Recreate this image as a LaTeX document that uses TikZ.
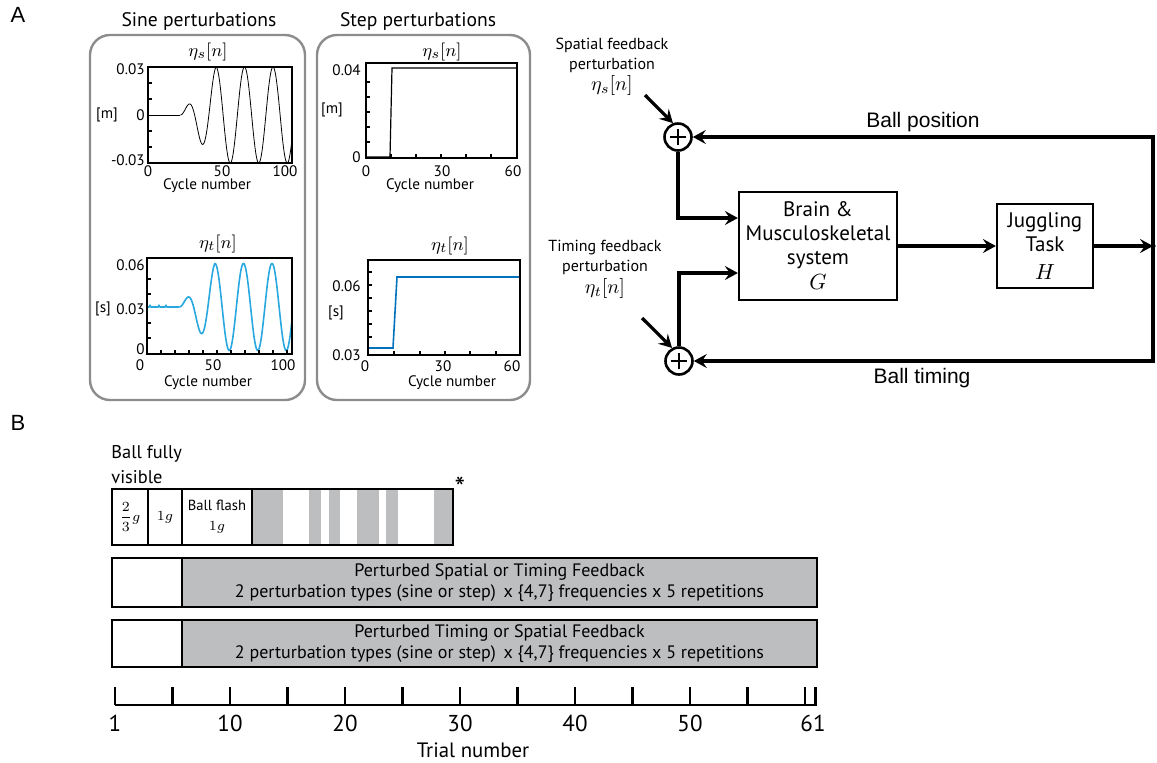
\documentclass[tikz,border=0pt]{standalone}
\usepackage[no-math]{fontspec}
\setmainfont{PT Sans}
\newfontfamily\arialf{Liberation Sans}
\usetikzlibrary{arrows.meta,calc}
\newcommand\fs[2]{\fontsize{#1pt}{#2pt}\selectfont}
\definecolor{panelgray}{RGB}{140,140,140}
\definecolor{stripegray}{RGB}{188,190,192}
\definecolor{sineblue}{RGB}{41,168,224}
\definecolor{stepblue}{RGB}{0,114,189}
\tikzset{
  lab/.style={inner sep=0pt, font=\fs{7.6}{9}},
  ttl/.style={inner sep=0pt, font=\fs{9.8}{11}},
  mathlab/.style={inner sep=0pt, font=\fs{9.5}{11}},
  frame/.style={line width=1.3pt},
  tick/.style={line width=0.9pt},
  panel/.style={draw=panelgray, line width=1.2pt, rounded corners=10pt},
  arr/.style={line width=1.6pt, -{Stealth[length=6.5pt,width=7pt,inset=2.4pt]}},
  blk/.style={draw, line width=1.1pt, align=center, inner sep=0pt, font=\fs{10.5}{12}},
  sumn/.style={circle, draw, line width=1.3pt, minimum size=13.5pt, inner sep=0pt,
    path picture={\draw[line width=1.2pt] ([xshift=-4.2pt]path picture bounding box.center) -- ([xshift=4.2pt]path picture bounding box.center);
      \draw[line width=1.2pt] ([yshift=-4.2pt]path picture bounding box.center) -- ([yshift=4.2pt]path picture bounding box.center);}},
  perttxt/.style={inner sep=0pt, align=center, font=\fs{8}{10}},
  fbtxt/.style={inner sep=0pt, font=\arialf\fs{10.5}{12}},
  cell/.style={draw, line width=0.9pt, inner sep=0pt, align=center},
  trial/.style={inner sep=0pt, font=\fs{11.5}{13}},
}
\begin{document}
\begin{tikzpicture}[x=0.5pt,y=-0.5pt]
\useasboundingbox (0,0) rectangle (1157,762);
% panel letters
\node[inner sep=0pt, font=\arialf\fs{11}{13}] (lA) at (18,15) {A};
\node[inner sep=0pt, font=\arialf\fs{11}{13}] (lB) at (18,423) {B};

% ---------- panels
\draw[panel] (90,35) rectangle (305,400);
\draw[panel] (317,35) rectangle (530,400);
\node[ttl] (t1) at (199,21) {Sine perturbations};
\node[ttl] (t2) at (418,21) {Step perturbations};

% ---------- sine top
\node[mathlab] (st1) at (208,52) {$\eta_s[n]$};
\draw (148,115) -- (180.4,115);
\draw plot[domain=180.4:292,samples=220] (\x,{115-48*min(1,(\x-180.4)/35.6)*cos(12.6316*(\x-216))});
\foreach \y in {83,99,131,147} \draw[tick] (148,\y) -- (152,\y);
\draw[frame] (148,67) rectangle (292,163);
\node[lab,anchor=east] (s1y1) at (145,69) {0.03};
\node[lab,anchor=east] (s1y2) at (145,115) {0};
\node[lab,anchor=east] (s1y3) at (145,160) {-0.03};
\node[lab] (s1u) at (107,115) {[m]};
\node[lab] (s1x1) at (148,171) {0};
\node[lab] (s1x2) at (222,171) {50};
\node[lab] (s1x3) at (285,171) {100};
\node[lab] (s1c) at (207,186) {Cycle number};

% ---------- sine bottom
\node[mathlab] (st2) at (218,244) {$\eta_t[n]$};
\draw[sineblue, line width=0.8pt] (147,307) -- (149,307) -- (150,305.5) -- (151,307) -- (158,307) -- (159,305.5) -- (160,307) -- (165,307) -- (166,305.5) -- (167,307) -- (179.4,307);
\draw[sineblue, line width=0.8pt] plot[domain=179.4:292,samples=220] (\x,{307-43.5*min(1,(\x-179.4)/35.6)*cos(12.6316*(\x-215))});
\foreach \y in {279,294,323,338} \draw[tick] (147,\y) -- (151,\y);
\foreach \x in {161,175,189,203,217,231,245,259,273,287} \draw[tick] (\x,354) -- (\x,350);
\draw[frame] (147,258) rectangle (292,354);
\node[lab,anchor=east] (s2y1) at (145,265) {0.06};
\node[lab,anchor=east] (s2y2) at (145,309) {0.03};
\node[lab,anchor=east] (s2y3) at (145,349) {0};
\node[lab] (s2u) at (103,309) {[s]};
\node[lab] (s2x1) at (140,365) {0};
\node[lab] (s2x2) at (213,365) {50};
\node[lab] (s2x3) at (283,365) {100};
\node[lab] (s2c) at (208,383) {Cycle number};

% ---------- step top
\node[mathlab] (st3) at (442,52) {$\eta_s[n]$};
\draw[line width=0.6pt] (366,157) -- (390,157) -- (392,68) -- (517,68);
\foreach \y in {82,97,112,127,142} \draw[tick] (366,\y) -- (370,\y);
\foreach \x in {391,416,441,466,491} \draw[tick] (\x,158) -- (\x,154);
\draw[frame] (366,63) rectangle (517,158);
\node[lab,anchor=east] (p1y1) at (361,70) {0.04};
\node[lab,anchor=east] (p1y2) at (361,157) {0};
\node[lab] (p1u) at (332,110) {[m]};
\node[lab] (p1x1) at (366,171) {0};
\node[lab] (p1x2) at (442,171) {30};
\node[lab] (p1x3) at (513,171) {60};
\node[lab] (p1c) at (430,186) {Cycle number};

% ---------- step bottom
\node[mathlab] (st4) at (450,246) {$\eta_t[n]$};
\draw[stepblue, line width=0.8pt] (368,348) -- (393,348) -- (397,277) -- (520,277);
\foreach \y in {272,285,298,311,324,337} \draw[tick] (368,\y) -- (372,\y);
\foreach \x in {394,420,445,470,496} \draw[tick] (\x,355) -- (\x,351);
\draw[frame] (368,260) rectangle (520,355);
\node[lab,anchor=east] (p2y1) at (361,286) {0.06};
\node[lab,anchor=east] (p2y2) at (361,355) {0.03};
\node[lab] (p2u) at (336,313) {[s]};
\node[lab] (p2x1) at (365,366) {0};
\node[lab] (p2x2) at (443,366) {30};
\node[lab] (p2x3) at (512,366) {60};
\node[lab] (p2c) at (452,383) {Cycle number};

% ---------- block diagram
\node[perttxt] (sp) at (612,55) {Spatial feedback\\perturbation};
\node[mathlab, font=\fs{10}{11}] (spm) at (612,85) {$\eta_s[n]$};
\node[perttxt] (tp) at (605,257) {Timing feedback\\perturbation};
\node[mathlab, font=\fs{10}{11}] (tpm) at (605,288) {$\eta_t[n]$};

\node[sumn] (sj) at (678,137) {};
\node[sumn] (tj) at (679,361) {};
\node[blk, minimum width=79pt, minimum height=54pt] (brain) at (818,246) {Brain \&\\Musculoskeletal\\system\\[0.5pt]$G$};
\node[blk, minimum width=48pt, minimum height=42pt] (jug) at (1045,246) {Juggling\\Task\\[2pt]$H$};
\coordinate (dot) at (1153,246);
\coordinate (sin) at (645,95);
\coordinate (tin) at (642,318);

\draw[arr] (sin) -- (sj.110);
\draw[arr] (tin) -- (tj.118);
\draw[arr] (sj.south) |- ($(brain.west)+(0,-28)$);
\draw[arr] (tj.north) |- ($(brain.west)+(0,27)$);
\draw[arr] (brain.east) -- (jug.west);
\draw[arr] (jug.east) -- (dot);
\fill (dot) circle (2.6);
\draw[arr] (dot) |- (sj.east);
\draw[arr] (dot) |- (tj.east);
\node[fbtxt] (bp) at (923,122) {Ball position};
\node[fbtxt] (bt) at (922,378) {Ball timing};

% ---------- panel B
\node[inner sep=0pt, anchor=west, align=left, font=\fs{9.2}{12.5}] (bfv) at (111,465) {Ball fully\\visible};
\foreach \a/\b in {252/283,309/321,329/340,357/379,386/398,434/453}
  \fill[stripegray] (\a,489) rectangle (\b,545);
\node[cell, minimum width=18pt, minimum height=28pt, font=\fs{7.5}{8}] (c1) at (130,517) {$\displaystyle\frac{2}{3}g$};
\node[cell, minimum width=17pt, minimum height=28pt, font=\fs{7.5}{8}] (c2) at (165,517) {$1g$};
\node[cell, minimum width=35pt, minimum height=28pt, font=\fs{7.3}{10}] (c3) at (217,517) {Ball flash\\$1g$};
\node[cell, minimum width=100.5pt, minimum height=28pt] (c4) at (352.5,517) {};
\node[inner sep=0pt, font=\fs{15}{15}] (ast) at (460,488) {*};

\node[cell, minimum width=35pt, minimum height=24.5pt] (r2a) at (147,582.5) {};
\node[cell, fill=stripegray, minimum width=317.5pt, minimum height=24.5pt, font=\fs{9}{10.5}] (r2b) at (499.5,582.5) {Perturbed Spatial or Timing Feedback\\2 perturbation types (sine or step)\, x \{4,7\} frequencies x 5 repetitions};
\node[cell, minimum width=35pt, minimum height=23.5pt] (r3a) at (147,643.5) {};
\node[cell, fill=stripegray, minimum width=317.5pt, minimum height=23.5pt, font=\fs{9}{10.5}] (r3b) at (499.5,643.5) {Perturbed Timing or Spatial Feedback\\2 perturbation types (sine or step)\, x \{4,7\} frequencies x 5 repetitions};

% axis
\coordinate (ax0) at (115,705);
\coordinate (ax1) at (817,705);
\draw[line width=1.3pt] (ax0) -- (ax1);
\foreach \k in {0,...,12} \draw[line width=1.3pt] ({115+57.5*\k},705) -- ({115+57.5*\k},687);
\draw[line width=1.3pt] (815.5,705) -- (815.5,687);
\foreach \v/\x in {1/115,10/230,20/345,30/460,40/575,50/690,61/813}
  \node[trial] at (\x,723) {\v};
\node[inner sep=0pt, font=\fs{10.4}{12}] (tn) at (473,750) {Trial number};
\end{tikzpicture}
\end{document}
